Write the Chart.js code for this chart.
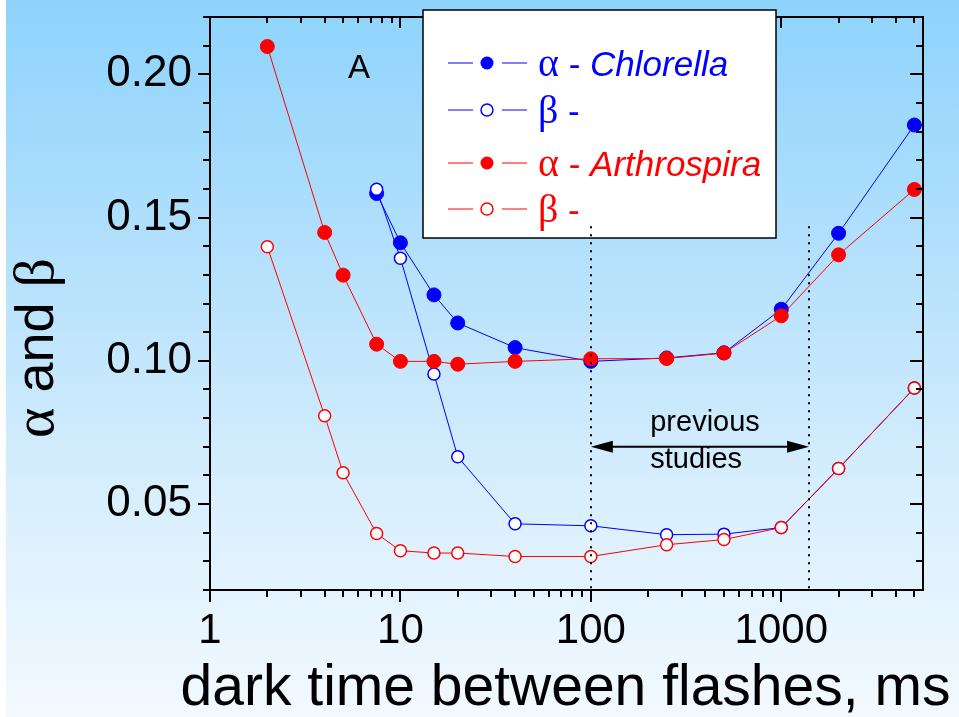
<!DOCTYPE html>
<html>
<head>
<meta charset="utf-8">
<script src="https://cdn.jsdelivr.net/npm/chart.js@4.4.1/dist/chart.umd.min.js"></script>
<style>
  html, body { margin: 0; padding: 0; background: #ffffff; }
  #wrap { width: 959px; height: 717px; }
</style>
</head>
<body>
<div id="wrap"><canvas id="chart" width="959" height="717"></canvas></div>
<script>
// dark time between flashes (ms) and the fitted alpha / beta
const chlorellaTimes = [7.5, 10, 15, 20, 40, 100, 250, 500, 1000, 2000, 5000];
const chlorellaAlpha = [0.1584, 0.1412, 0.1230, 0.1132, 0.1046, 0.0998, 0.1010, 0.1028, 0.1180, 0.1445, 0.1823];
const chlorellaBeta  = [0.1599, 0.1358, 0.0954, 0.0665, 0.0431, 0.0424, 0.0393, 0.0395, 0.0418, 0.0624, 0.0905];

const arthroTimes = [2, 4, 5, 7.5, 10, 15, 20, 40, 100, 250, 500, 1000, 2000, 5000];
const arthroAlpha = [0.2097, 0.1448, 0.1299, 0.1058, 0.0998, 0.0998, 0.0988, 0.0998, 0.1007, 0.1008, 0.1027, 0.1157, 0.1370, 0.1598];
const arthroBeta  = [0.1398, 0.0808, 0.0609, 0.0397, 0.0337, 0.0329, 0.0329, 0.0317, 0.0317, 0.0358, 0.0376, 0.0418, 0.0624, 0.0905];

const xTickLabels = [1, 10, 100, 1000];
const yTickLabels = [0.05, 0.10, 0.15, 0.20];
const previousStudies = [100, 1400];   // range marked by the dotted lines
const xTitle = 'dark time between flashes, ms';

const BLUE = '#0000ff';
const RED = '#ff0000';
const SANS = "'Liberation Sans', Arial, sans-serif";
const SERIF = "'Liberation Serif', 'Times New Roman', serif";

const toPoints = (xs, ys) => xs.map((x, i) => ({ x: x, y: ys[i] }));

function filledSeries(label, pts, color, order) {
  return {
    label, data: pts, order,
    borderColor: color, borderWidth: 1,
    pointBackgroundColor: color, pointBorderColor: color,
    pointRadius: 7, pointBorderWidth: 1, pointHoverRadius: 7
  };
}

function openSeries(label, pts, color, order) {
  return {
    label, data: pts, order,
    borderColor: color, borderWidth: 1,
    pointBackgroundColor: '#ffffff', pointBorderColor: color,
    pointRadius: 6, pointBorderWidth: 1.5, pointHoverRadius: 6
  };
}

const legendRows = [
  { color: BLUE, filled: true,  greek: 'α', name: 'Chlorella',   y: 63 },
  { color: BLUE, filled: false, greek: 'β', name: '',            y: 110 },
  { color: RED,  filled: true,  greek: 'α', name: 'Arthrospira', y: 163 },
  { color: RED,  filled: false, greek: 'β', name: '',            y: 209 }
];

function isWhole(v) {
  return Math.abs(v - Math.round(v)) < 1e-6;
}

// light-blue slide background
const backdrop = {
  id: 'backdrop',
  beforeDraw(chart) {
    const { ctx, width, height } = chart;
    ctx.save();
    ctx.fillStyle = '#ffffff';
    ctx.fillRect(0, 0, width, height);
    const g = ctx.createLinearGradient(0, 0, 0, height);
    g.addColorStop(0, '#8ed3fd');
    g.addColorStop(0.35, '#b3e0fc');
    g.addColorStop(0.7, '#d9effd');
    g.addColorStop(1, '#f3f9ff');
    ctx.fillStyle = g;
    ctx.fillRect(6, 0, width - 6, height);
    ctx.restore();
  }
};

// frame, inward/outward ticks, legend box, "previous studies" marks
const decorations = {
  id: 'decorations',
  afterDraw(chart) {
    const { ctx, chartArea: a, scales: { x, y } } = chart;
    ctx.save();

    // frame + ticks
    ctx.strokeStyle = '#000';
    ctx.lineWidth = 2;
    ctx.strokeRect(a.left, a.top, a.right - a.left, a.bottom - a.top);
    ctx.beginPath();
    x.ticks.forEach(t => {
      const v = t.value;
      const m = v / Math.pow(10, Math.floor(Math.log10(v) + 1e-9));
      if (!isWhole(m)) return;
      const major = Math.abs(m - 1) < 1e-6;
      const px = Math.round(x.getPixelForValue(v));
      ctx.moveTo(px, a.bottom); ctx.lineTo(px, a.bottom + (major ? 12 : 7));
      ctx.moveTo(px, a.top); ctx.lineTo(px, a.top + (major ? 11 : 6));
    });
    y.ticks.forEach(t => {
      const major = yTickLabels.some(l => Math.abs(l - t.value) < 1e-6);
      const py = Math.round(y.getPixelForValue(t.value));
      ctx.moveTo(a.left, py); ctx.lineTo(a.left - (major ? 12 : 7), py);
      ctx.moveTo(a.right, py); ctx.lineTo(a.right - (major ? 13 : 7), py);
    });
    ctx.stroke();

    // x-axis title (drawn here so it is not squeezed to the plot width)
    ctx.fillStyle = '#000';
    ctx.textBaseline = 'alphabetic';
    ctx.textAlign = 'center';
    ctx.font = '57px ' + SANS;
    ctx.fillText(xTitle, (a.left + a.right) / 2 - 1, a.bottom + 115);

    // panel letter
    ctx.font = '33px ' + SANS;
    ctx.textAlign = 'left';
    ctx.fillText('A', x.getPixelForValue(5.3), y.getPixelForValue(0.1987));

    // legend
    ctx.fillStyle = '#ffffff';
    ctx.fillRect(423, 10, 353, 228);
    ctx.lineWidth = 1.5;
    ctx.strokeStyle = '#000';
    ctx.strokeRect(423, 10, 353, 228);
    legendRows.forEach(r => {
      ctx.strokeStyle = r.color;
      ctx.lineWidth = 1;
      ctx.beginPath();
      ctx.moveTo(448, r.y); ctx.lineTo(473, r.y);
      ctx.moveTo(502, r.y); ctx.lineTo(527, r.y);
      ctx.stroke();
      ctx.beginPath();
      ctx.arc(487, r.y, r.filled ? 6.5 : 6, 0, Math.PI * 2);
      if (r.filled) {
        ctx.fillStyle = r.color;
        ctx.fill();
      } else {
        ctx.fillStyle = '#ffffff';
        ctx.fill();
        ctx.lineWidth = 1.5;
        ctx.stroke();
      }
      ctx.fillStyle = r.color;
      ctx.textAlign = 'left';
      let tx = 538;
      const by = r.y + 13;
      ctx.font = '40px ' + SERIF;
      ctx.fillText(r.greek, tx, by);
      tx += ctx.measureText(r.greek).width;
      ctx.font = '35px ' + SANS;
      ctx.fillText(' - ', tx, by);
      tx += ctx.measureText(' - ').width;
      if (r.name) {
        ctx.font = 'italic 35px ' + SANS;
        ctx.fillText(r.name, tx, by);
      }
    });

    // dotted range lines
    ctx.strokeStyle = '#000';
    ctx.lineWidth = 2;
    ctx.setLineDash([2, 6]);
    ctx.beginPath();
    previousStudies.forEach(v => {
      const px = Math.round(x.getPixelForValue(v));
      ctx.moveTo(px, y.getPixelForValue(0.147));
      ctx.lineTo(px, a.bottom);
    });
    ctx.stroke();
    ctx.setLineDash([]);

    // double arrow
    const ay = y.getPixelForValue(0.070);
    const x0 = x.getPixelForValue(previousStudies[0]);
    const x1 = x.getPixelForValue(previousStudies[1]);
    ctx.lineWidth = 2;
    ctx.beginPath();
    ctx.moveTo(x0 + 10, ay); ctx.lineTo(x1 - 10, ay);
    ctx.stroke();
    ctx.fillStyle = '#000';
    ctx.beginPath();
    ctx.moveTo(x0, ay); ctx.lineTo(x0 + 22, ay - 6); ctx.lineTo(x0 + 22, ay + 6); ctx.closePath();
    ctx.moveTo(x1, ay); ctx.lineTo(x1 - 22, ay - 6); ctx.lineTo(x1 - 22, ay + 6); ctx.closePath();
    ctx.fill();

    ctx.font = '29px ' + SANS;
    ctx.textAlign = 'left';
    ctx.fillText('previous', x.getPixelForValue(205), y.getPixelForValue(0.0756));
    ctx.fillText('studies', x.getPixelForValue(205), y.getPixelForValue(0.0627));

    // y-axis title, mixed serif greek + sans text
    ctx.translate(53, 348);
    ctx.rotate(-Math.PI / 2);
    const parts = [['α', '58px ' + SERIF], [' and ', '54px ' + SANS], ['β', '58px ' + SERIF]];
    let total = 0;
    parts.forEach(p => { ctx.font = p[1]; total += ctx.measureText(p[0]).width; });
    let px = -total / 2;
    parts.forEach(p => {
      ctx.font = p[1];
      ctx.fillText(p[0], px, 0);
      px += ctx.measureText(p[0]).width;
    });
    ctx.restore();
  }
};

new Chart(document.getElementById('chart'), {
  type: 'line',
  data: {
    datasets: [
      filledSeries('α - Chlorella', toPoints(chlorellaTimes, chlorellaAlpha), BLUE, 4),
      openSeries('β - Chlorella', toPoints(chlorellaTimes, chlorellaBeta), BLUE, 3),
      filledSeries('α - Arthrospira', toPoints(arthroTimes, arthroAlpha), RED, 2),
      openSeries('β - Arthrospira', toPoints(arthroTimes, arthroBeta), RED, 1)
    ]
  },
  options: {
    responsive: false,
    animation: false,
    layout: { padding: { top: 17, right: 36, left: 0, bottom: 0 } },
    plugins: {
      legend: { display: false },
      tooltip: { enabled: false }
    },
    scales: {
      x: {
        type: 'logarithmic',
        min: 1,
        max: 5550,
        grid: { display: false },
        border: { display: false },
        afterBuildTicks: s => {
          const ticks = [];
          for (let d = 1; d <= 1000; d *= 10) {
            for (let m = 1; m <= 9; m++) {
              if (d * m <= 5550) ticks.push({ value: d * m });
            }
          }
          s.ticks = ticks;
        },
        afterFit: s => { s.height = 127; s.paddingLeft = 0; s.paddingRight = 0; },
        ticks: {
          autoSkip: false,
          maxRotation: 0,
          minRotation: 0,
          padding: 8,
          color: '#000',
          font: { family: SANS, size: 42 },
          callback: v => (xTickLabels.includes(v) ? String(v) : '')
        }
      },
      y: {
        type: 'linear',
        min: 0.02,
        max: 0.22,
        grid: { display: false },
        border: { display: false },
        afterBuildTicks: s => {
          const ticks = [];
          for (let k = 2; k <= 22; k++) ticks.push({ value: k / 100 });
          s.ticks = ticks;
        },
        afterFit: s => { s.width = 210; s.paddingTop = 0; s.paddingBottom = 0; },
        ticks: {
          autoSkip: false,
          padding: 10,
          color: '#000',
          font: { family: SANS, size: 44 },
          callback: v => (yTickLabels.some(l => Math.abs(l - v) < 1e-6) ? v.toFixed(2) : '')
        }
      }
    }
  },
  plugins: [backdrop, decorations]
});
</script>
</body>
</html>
